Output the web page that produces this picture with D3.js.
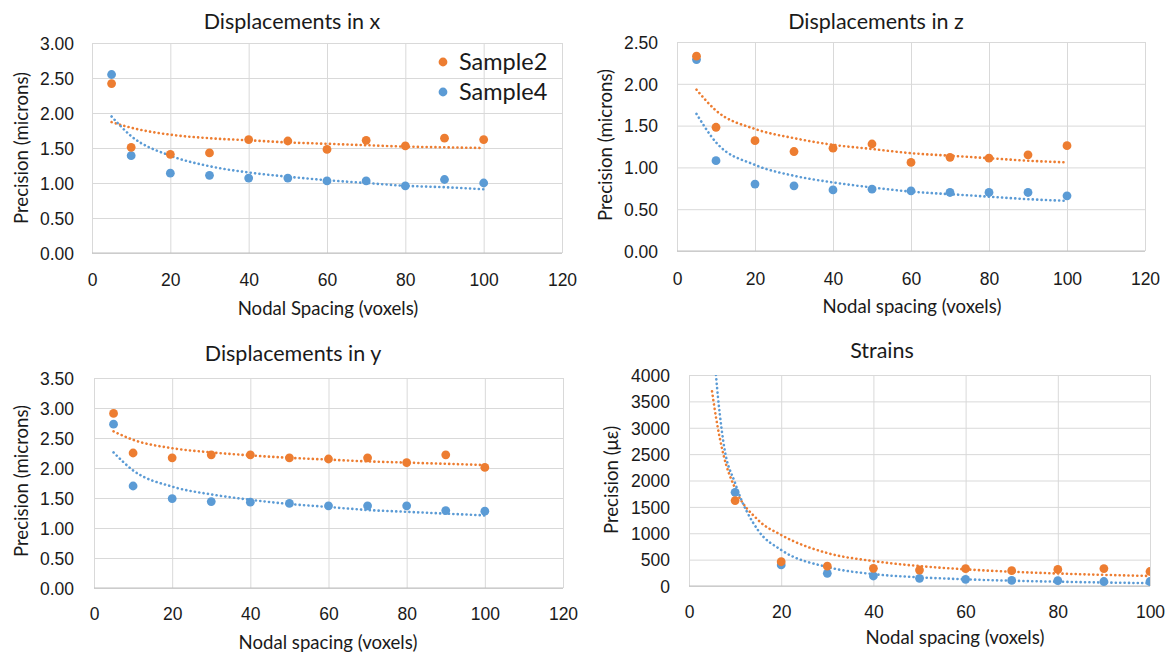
<!DOCTYPE html>
<html>
<head>
<meta charset="utf-8">
<script src="https://cdn.jsdelivr.net/npm/d3@7"></script>
<style>
  html, body { margin: 0; padding: 0; background: #ffffff; }
  svg { display: block; font-family: Lato, "Open Sans", sans-serif; }
</style>
</head>
<body>
<svg id="chart" width="1171" height="655"></svg>
<script>
// ---------------- DATA ----------------
const seriesNames = ["Sample2", "Sample4"];
const nodalSpacing = [5, 10, 20, 30, 40, 50, 60, 70, 80, 90, 100];
const strainSpacing = [10, 20, 30, 40, 50, 60, 70, 80, 90, 100];
const strainTrendSpacing = [5, 5.85, 7.5, 10, 15, 20, 30, 40, 50, 60, 70, 80, 90, 100];

// Displacements in x
const dispX_sample2 = [2.42, 1.51, 1.41, 1.43, 1.62, 1.60, 1.48, 1.61, 1.53, 1.64, 1.62];
const dispX_sample4 = [2.55, 1.39, 1.14, 1.11, 1.07, 1.07, 1.03, 1.03, 0.96, 1.05, 1.00];
const dispX_trend2  = [1.87, 1.79, 1.69, 1.64, 1.61, 1.58, 1.56, 1.54, 1.52, 1.51, 1.50];
const dispX_trend4  = [1.95, 1.67, 1.39, 1.24, 1.15, 1.09, 1.04, 1.00, 0.96, 0.94, 0.91];

// Displacements in z
const dispZ_sample2 = [2.33, 1.48, 1.32, 1.19, 1.23, 1.28, 1.06, 1.12, 1.11, 1.15, 1.26];
const dispZ_sample4 = [2.29, 1.08, 0.80, 0.78, 0.73, 0.74, 0.72, 0.70, 0.70, 0.70, 0.66];
const dispZ_trend2  = [1.93, 1.68, 1.46, 1.35, 1.27, 1.22, 1.17, 1.14, 1.11, 1.08, 1.06];
const dispZ_trend4  = [1.64, 1.30, 1.03, 0.90, 0.82, 0.76, 0.71, 0.68, 0.65, 0.62, 0.60];

// Displacements in y
const dispY_sample2 = [2.91, 2.25, 2.17, 2.22, 2.22, 2.17, 2.15, 2.17, 2.09, 2.22, 2.01];
const dispY_sample4 = [2.73, 1.70, 1.49, 1.44, 1.43, 1.41, 1.37, 1.37, 1.37, 1.29, 1.28];
const dispY_trend2  = [2.61, 2.47, 2.33, 2.26, 2.21, 2.17, 2.14, 2.11, 2.09, 2.07, 2.05];
const dispY_trend4  = [2.26, 1.96, 1.69, 1.56, 1.47, 1.40, 1.35, 1.30, 1.27, 1.24, 1.21];

// Strains
const strain_sample2 = [1620, 460, 375, 335, 303, 330, 290, 315, 330, 275];
const strain_sample4 = [1775, 400, 240, 190, 145, 127, 105, 102, 85, 85];
const strain_trend2  = [3690, 3200, 2480, 1850, 1250, 967, 625, 472, 378, 316, 270, 237, 211, 190];
const strain_trend4  = [5000, 4000, 2706, 1950, 1055, 683, 360, 225, 165, 127, 100, 82, 66, 54];

// Ticks
const xTicks120 = [0, 20, 40, 60, 80, 100, 120];
const xTicks100 = [0, 20, 40, 60, 80, 100];
const yTicks300 = [0, 0.5, 1.0, 1.5, 2.0, 2.5, 3.0];
const yTicks250 = [0, 0.5, 1.0, 1.5, 2.0, 2.5];
const yTicks350 = [0, 0.5, 1.0, 1.5, 2.0, 2.5, 3.0, 3.5];
const yTicks4000 = [0, 500, 1000, 1500, 2000, 2500, 3000, 3500, 4000];

// Text
const titles = ["Displacements in x", "Displacements in z", "Displacements in y", "Strains"];
const xTitles = ["Nodal Spacing (voxels)", "Nodal spacing (voxels)", "Nodal spacing (voxels)", "Nodal spacing (voxels)"];
const yTitles = ["Precision (microns)", "Precision (microns)", "Precision (microns)", "Precision (\u03bc\u03b5)"];

// ---------------- STYLE / LAYOUT ----------------
const colors = ["#ED7D31", "#5B9BD5"];
const gridColor = "#D9D9D9";
const axisColor = "#BFBFBF";
const textColor = "#1a1a1a";

const panels = [
  { title: titles[0], xTitle: xTitles[0], yTitle: yTitles[0],
    px: [92, 562], py: [253, 43], xDom: [0, 120], yDom: [0, 3], xTicks: xTicks120, yTicks: yTicks300, fmt: d3.format(".2f"),
    sx: nodalSpacing, s: [dispX_sample2, dispX_sample4], tx: nodalSpacing, t: [dispX_trend2, dispX_trend4],
    titlePos: [292, 29], yLabRight: 74, xLabBase: 286, xTitlePos: [328, 315], yTitlePos: [28, 148], legend: true },
  { title: titles[1], xTitle: xTitles[1], yTitle: yTitles[1],
    px: [677, 1145], py: [251, 42], xDom: [0, 120], yDom: [0, 2.5], xTicks: xTicks120, yTicks: yTicks250, fmt: d3.format(".2f"),
    sx: nodalSpacing, s: [dispZ_sample2, dispZ_sample4], tx: nodalSpacing, t: [dispZ_trend2, dispZ_trend4],
    titlePos: [876, 29], yLabRight: 658, xLabBase: 285, xTitlePos: [912, 313], yTitlePos: [612, 145] },
  { title: titles[2], xTitle: xTitles[2], yTitle: yTitles[2],
    px: [94, 563], py: [588, 378], xDom: [0, 120], yDom: [0, 3.5], xTicks: xTicks120, yTicks: yTicks350, fmt: d3.format(".2f"),
    sx: nodalSpacing, s: [dispY_sample2, dispY_sample4], tx: nodalSpacing, t: [dispY_trend2, dispY_trend4],
    titlePos: [293, 361], yLabRight: 74, xLabBase: 620, xTitlePos: [328, 649], yTitlePos: [28, 481] },
  { title: titles[3], xTitle: xTitles[3], yTitle: yTitles[3],
    px: [689, 1150], py: [586, 375], xDom: [0, 100], yDom: [0, 4000], xTicks: xTicks100, yTicks: yTicks4000, fmt: d3.format("d"),
    sx: strainSpacing, s: [strain_sample2, strain_sample4], tx: strainTrendSpacing, t: [strain_trend2, strain_trend4],
    titlePos: [882, 358], yLabRight: 670, xLabBase: 618, xTitlePos: [955, 644], yTitlePos: [618, 480] }
];

const svg = d3.select("#chart");

panels.forEach((p, pi) => {
  const x = d3.scaleLinear().domain(p.xDom).range(p.px);
  const y = d3.scaleLinear().domain(p.yDom).range(p.py);
  const g = svg.append("g").attr("class", "panel");

  const clipId = "clip" + pi;
  svg.append("clipPath").attr("id", clipId).append("rect")
    .attr("x", p.px[0]).attr("y", p.py[1])
    .attr("width", p.px[1] - p.px[0]).attr("height", p.py[0] - p.py[1]);

  // horizontal gridlines + y labels
  const yAxis = d3.axisLeft(y).tickValues(p.yTicks).tickFormat(p.fmt)
    .tickSize(-(p.px[1] - p.px[0])).tickPadding(p.px[0] - p.yLabRight);
  const gy = g.append("g").attr("transform", `translate(${p.px[0]},0)`).call(yAxis);
  gy.select(".domain").remove();
  gy.selectAll(".tick line").attr("stroke", gridColor).attr("stroke-width", 1);
  gy.selectAll(".tick text").attr("fill", textColor).style("font-size", "17.5px").attr("dy", "0.36em");

  // vertical gridlines + x labels
  const xAxis = d3.axisBottom(x).tickValues(p.xTicks).tickFormat(d3.format("d"))
    .tickSize(-(p.py[0] - p.py[1])).tickPadding(0);
  const gx = g.append("g").attr("transform", `translate(0,${p.py[0]})`).call(xAxis);
  gx.select(".domain").remove();
  gx.selectAll(".tick line").attr("stroke", gridColor).attr("stroke-width", 1);
  gx.selectAll(".tick text").attr("fill", textColor).style("font-size", "17.5px")
    .attr("y", p.xLabBase - p.py[0]).attr("dy", 0);

  // bottom axis line
  g.append("line").attr("x1", p.px[0]).attr("x2", p.px[1])
    .attr("y1", p.py[0]).attr("y2", p.py[0]).attr("stroke", axisColor).attr("stroke-width", 1);

  // trendlines
  const plotG = g.append("g").attr("clip-path", `url(#${clipId})`);
  p.t.forEach((vals, si) => {
    const pts = p.tx.map((xv, i) => [xv, vals[i]]);
    const line = d3.line().x(d => x(d[0])).y(d => y(d[1])).curve(d3.curveMonotoneX);
    plotG.append("path").attr("d", line(pts))
      .attr("fill", "none").attr("stroke", colors[si]).attr("stroke-width", 2.6)
      .attr("stroke-linecap", "round").attr("stroke-dasharray", "0.1 4.3");
  });

  // points (Sample4 drawn first so Sample2 overlays like the reference)
  [1, 0].forEach(si => {
    plotG.append("g").selectAll("circle")
      .data(p.sx.map((xv, i) => [xv, p.s[si][i]]))
      .join("circle")
      .attr("cx", d => x(d[0])).attr("cy", d => y(d[1])).attr("r", 4.4)
      .attr("fill", colors[si]);
  });

  // titles
  g.append("text").attr("x", p.titlePos[0]).attr("y", p.titlePos[1])
    .attr("text-anchor", "middle").attr("fill", textColor).style("font-size", "21.5px").text(p.title);
  g.append("text").attr("x", p.xTitlePos[0]).attr("y", p.xTitlePos[1])
    .attr("text-anchor", "middle").attr("fill", textColor).style("font-size", "18.6px").text(p.xTitle);
  g.append("text").attr("transform", `translate(${p.yTitlePos[0]},${p.yTitlePos[1]}) rotate(-90)`)
    .attr("text-anchor", "middle").attr("fill", textColor).style("font-size", "18.6px").text(p.yTitle);

  // legend
  if (p.legend) {
    const lg = g.append("g");
    seriesNames.forEach((name, si) => {
      const cy = 62 + si * 30;
      lg.append("circle").attr("cx", 443).attr("cy", cy).attr("r", 4.4).attr("fill", colors[si]);
      lg.append("text").attr("x", 459).attr("y", cy + 7.5).attr("fill", textColor)
        .style("font-size", "23.5px").text(name);
    });
  }
});
</script>
</body>
</html>
